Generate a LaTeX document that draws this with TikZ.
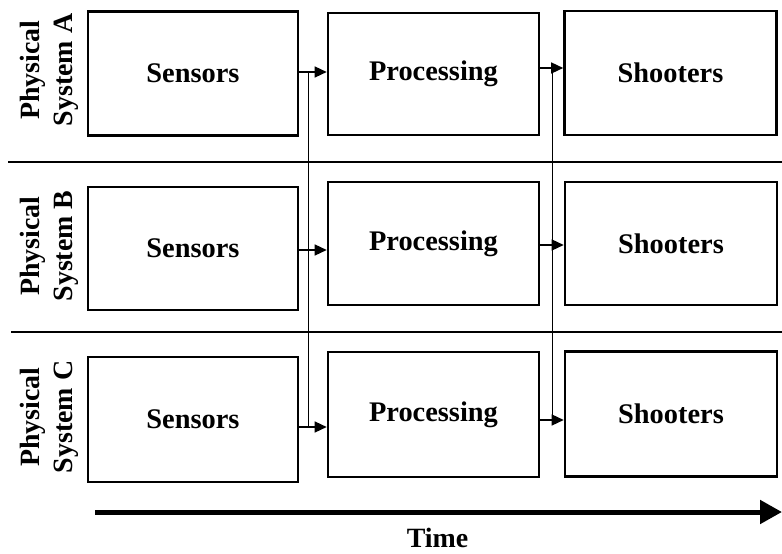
\documentclass[tikz,border=0pt]{standalone}
\usepackage{fontspec}
\setmainfont{Liberation Serif}
\usetikzlibrary{arrows.meta}
\begin{document}
\begin{tikzpicture}[x=1bp,y=-1bp,
  boxnode/.style={draw,line width=2.6bp,inner sep=0pt,minimum width=210bp,minimum height=124bp,
    font=\fontsize{28.5}{31}\selectfont\bfseries},
  rowlabel/.style={rotate=90,align=center,inner sep=0pt,font=\fontsize{28}{33}\selectfont\bfseries},
  divider/.style={line width=2.4bp},
  bus/.style={line width=1bp},
  arr/.style={line width=1.4bp,-{Triangle[length=12bp,width=11bp]}},
  timearr/.style={line width=5bp,-{Triangle[length=22bp,width=23bp]}}]
\useasboundingbox (0,0) rectangle (782,554);
% row A
\node[boxnode] (sA) at (193,73.5) {Sensors};
\node[boxnode,minimum width=211bp,minimum height=122bp] (pA) at (433.5,74) {Processing};
\node[boxnode,minimum width=212bp,minimum height=124bp] (hA) at (670.5,73) {Shooters};
% row B
\node[boxnode,minimum height=123bp] (sB) at (193,248.5) {Sensors};
\node[boxnode,minimum width=211bp,minimum height=123bp] (pB) at (433.5,243.5) {Processing};
\node[boxnode,minimum width=212bp,minimum height=123bp] (hB) at (671,243.5) {Shooters};
% row C
\node[boxnode,minimum height=125bp] (sC) at (193,419.5) {Sensors};
\node[boxnode,minimum width=211bp,minimum height=125bp] (pC) at (433.5,414.5) {Processing};
\node[boxnode,minimum width=212bp,minimum height=125bp] (hC) at (671,414) {Shooters};
% row labels
\node[rowlabel] (lA) at (49,70) {Physical\\System A};
\node[rowlabel] (lB) at (49,246) {Physical\\System B};
\node[rowlabel] (lC) at (49,417) {Physical\\System C};
% dividers
\coordinate (d1l) at (8,162);
\coordinate (d1r) at (782,162);
\coordinate (d2l) at (11,332);
\coordinate (d2r) at (782,332);
\draw[divider] (d1l) -- (d1r);
\draw[divider] (d2l) -- (d2r);
% bus 1
\coordinate (b1t) at (308,72);
\coordinate (b1m) at (308,250);
\coordinate (b1b) at (308,427);
\draw[bus] (b1t) -- (b1b);
\draw[arr] (sA.east |- b1t) -- (pA.west |- b1t);
\draw[arr] (sB.east |- b1m) -- (pB.west |- b1m);
\draw[arr] (sC.east |- b1b) -- (pC.west |- b1b);
% bus 2
\coordinate (b2t) at (552,68);
\coordinate (b2m) at (552,245);
\coordinate (b2b) at (552,420);
\draw[bus] (b2t) -- (b2b);
\draw[arr] (pA.east |- b2t) -- (hA.west |- b2t);
\draw[arr] (pB.east |- b2m) -- (hB.west |- b2m);
\draw[arr] (pC.east |- b2b) -- (hC.west |- b2b);
% time
\coordinate (t0) at (95,512);
\coordinate (t1) at (782,512);
\draw[timearr] (t0) -- (t1);
\node[font=\fontsize{28}{31}\selectfont\bfseries,inner sep=0pt,anchor=base] (time) at (437.5,547) {Time};
\end{tikzpicture}
\end{document}
